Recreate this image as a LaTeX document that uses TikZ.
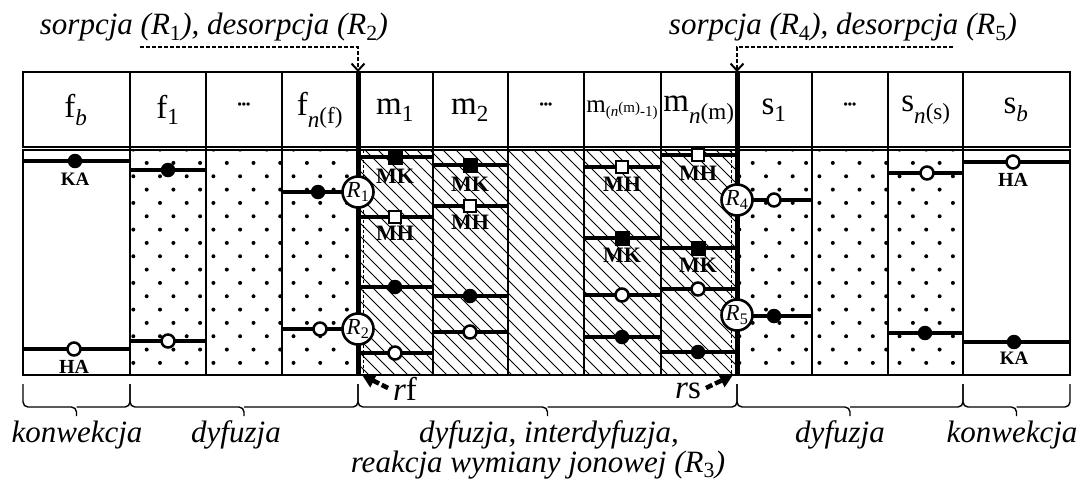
\documentclass[tikz,border=0pt]{standalone}
\usepackage{fontspec}
\setmainfont{Liberation Serif}
\usetikzlibrary{arrows.meta}
\newcommand\fsz[1]{\fontsize{#1}{#1}\selectfont}
\newcommand\sbs[1]{\textsubscript{#1}}
\tikzset{
  boxline/.style={line width=2.4pt},
  colline/.style={line width=1.8pt},
  sepline/.style={line width=5pt},
  bar/.style={line width=3.6pt},
  hatch/.style={line width=0.9pt},
  fdot/.style={circle, fill=black, inner sep=0pt, minimum size=14.5pt},
  odot/.style={circle, draw=black, fill=white, line width=2.5pt, inner sep=0pt, minimum size=13pt},
  fsq/.style={rectangle, fill=black, draw=black, inner sep=0pt, minimum size=14pt},
  osq/.style={rectangle, fill=white, draw=black, line width=2pt, inner sep=0pt, minimum size=12.5pt},
  rcirc/.style={circle, draw=black, fill=white, line width=2.6pt, minimum size=31pt, inner sep=0pt, font=\fsz{23}\itshape},
  lab/.style={inner sep=0pt, font=\fsz{22}\bfseries},
  hd/.style={inner sep=0pt, font=\fsz{33}},
  txt/.style={inner sep=0pt, font=\fsz{31}\itshape},
  btxt/.style={inner sep=0pt, anchor=base, font=\fsz{31}\itshape},
  dasharr/.style={line width=2pt, dash pattern=on 4pt off 2pt, -{Straight Barb[length=7pt,width=13pt,line width=2pt]}},
  rarr/.style={line width=4.5pt, dash pattern=on 7pt off 3pt, -{Triangle[length=13pt,width=14pt]}},
  brc/.style={line width=1.4pt, rounded corners=5pt},
}
\begin{document}
\begin{tikzpicture}[x=1pt,y=-1pt]
\useasboundingbox (0,0) rectangle (1089,483);
% hatched membrane
\begin{scope}
  \clip (358,150) rectangle (737,375);
  \foreach \k in {-240,-227,...,400} {
    \draw[hatch] (358+\k,150) -- ++(240,240);
  }
\end{scope}
% dotted regions
\begin{scope}
  \clip (130,150) rectangle (358,375);
  \foreach \i in {0,...,17} {
    \pgfmathsetmacro\yy{149.6+13.33*\i}
    \pgfmathsetmacro\xo{isodd(\i) ? 146.7 : 133.3}
    \foreach \j in {0,...,9} {
      \fill (\xo+26.7*\j,\yy) circle (2pt);
    }
  }
\end{scope}
\begin{scope}
  \clip (737,150) rectangle (963,375);
  \foreach \i in {0,...,17} {
    \pgfmathsetmacro\yy{149.6+13.33*\i}
    \pgfmathsetmacro\xo{isodd(\i) ? 752.7 : 739.3}
    \foreach \j in {0,...,9} {
      \fill (\xo+26.7*\j,\yy) circle (2pt);
    }
  }
\end{scope}
% frames
\draw[boxline] (23,72) rectangle (1070,147);
\draw[boxline] (23,150) rectangle (1070,375);
\foreach \x in {130,206,282,433,508,584,661,812,888,963} {
  \draw[colline] (\x,72) -- (\x,375);
}
\draw[line width=1pt, dash pattern=on 3pt off 2pt] (363,150) -- (363,375);
\draw[line width=1pt, dash pattern=on 3pt off 2pt] (731,150) -- (731,375);
% header labels
\node[hd] (hfb) at (76,110) {f\sbs{\itshape b}};
\node[hd] (hf1) at (168,110) {f\sbs{1}};
\node[hd] (hfd) at (244,106) {\fsz{12}\bfseries •••};
\node[hd] (hfn) at (320,110) {f\sbs{\itshape n\raisebox{4pt}{\upshape (f)}}};
\node[hd] (hm1) at (395,110) {m\sbs{1}};
\node[hd] (hm2) at (470,110) {m\sbs{2}};
\node[hd] (hmd) at (546,106) {\fsz{12}\bfseries •••};
\node[hd] (hmp) at (622,110) {\fsz{25}m\fsz{15}\raisebox{-4pt}{(\itshape n\raisebox{4pt}{\upshape (m)}\upshape -1)}};
\node[hd] (hmn) at (699,110) {m\sbs{\itshape n\raisebox{4pt}{\upshape (m)}}};
\node[hd] (hs1) at (774,110) {s\sbs{1}};
\node[hd] (hsd) at (850,106) {\fsz{12}\bfseries •••};
\node[hd] (hsn) at (926,110) {s\sbs{\itshape n\raisebox{4pt}{\upshape (s)}}};
\node[hd] (hsb) at (1016,110) {s\sbs{\itshape b}};
% bars with markers
\foreach \xa/\xb/\yy/\xm/\ty/\nm in {
  23/130/161/75/fdot/kaL, 23/130/349/74/odot/haL,
  130/206/170/168/fdot/fa1, 130/206/341/168/odot/fa2,
  282/358/192/318/fdot/fna, 282/358/329/320/odot/fnb,
  358/433/157/395/fsq/ma1, 358/433/217/395/osq/ma2, 358/433/287/395/fdot/ma3, 358/433/353/395/odot/ma4,
  433/508/165/470/fsq/mb1, 433/508/206/470/osq/mb2, 433/508/296/470/fdot/mb3, 433/508/332/470/odot/mb4,
  584/661/167/622/osq/mc1, 584/661/238/622/fsq/mc2, 584/661/295/622/odot/mc3, 584/661/337/622/fdot/mc4,
  661/737/155/698/osq/md1, 661/737/248/698/fsq/md2, 661/737/289/698/odot/md3, 661/737/352/698/fdot/md4,
  737/812/200/774/odot/sa1, 737/812/316/774/fdot/sa2,
  888/963/173/927/odot/sn1, 888/963/333/925/fdot/sn2,
  963/1070/162/1013/odot/haR, 963/1070/342/1014/fdot/kaR} {
  \draw[bar] (\xa,\yy) -- (\xb,\yy);
  \node[\ty] (\nm) at (\xm,\yy) {};
}
% marker labels
\node[lab, font=\fsz{19}\bfseries] (lkaL) at (75,179) {KA};
\node[lab, font=\fsz{20}\bfseries] (lhaL) at (74,367) {HA};
\node[lab] (lma1) at (395,176) {MK};
\node[lab] (lma2) at (395,233) {MH};
\node[lab] (lmb1) at (470,184) {MK};
\node[lab] (lmb2) at (470,222) {MH};
\node[lab] (lmc1) at (622,184) {MH};
\node[lab] (lmc2) at (622,255) {MK};
\node[lab] (lmd1) at (698,173) {MH};
\node[lab] (lmd2) at (698,265) {MK};
\node[lab, font=\fsz{20}\bfseries] (lhaR) at (1013,180) {HA};
\node[lab, font=\fsz{19}\bfseries] (lkaR) at (1014,358) {KA};
% separators
\draw[sepline] (358,72) -- (358,375);
\draw[sepline] (737,72) -- (737,375);
\node[rcirc] (R1) at (358,192) {R\sbs{\upshape 1}};
\node[rcirc] (R2) at (358,329) {R\sbs{\upshape 2}};
\node[rcirc] (R4) at (737,200) {R\sbs{\upshape 4}};
\node[rcirc] (R5) at (737,315) {R\sbs{\upshape 5}};
% top labels and arrows
\node[txt] (tl) at (214,27) {sorpcja (R\sbs{\upshape 1}), desorpcja (R\sbs{\upshape 2})};
\node[txt] (tr) at (843,27) {sorpcja (R\sbs{\upshape 4}), desorpcja (R\sbs{\upshape 5})};
\coordinate (al) at (140,47);
\coordinate (ar) at (953,47);
\coordinate (s1t) at (358,72);
\coordinate (s2t) at (737,72);
\draw[dasharr] (al) -| (s1t);
\draw[dasharr] (ar) -| (s2t);
% rf, rs
\coordinate (rft) at (388,388);
\coordinate (rfh) at (362,375);
\coordinate (rst) at (706,388);
\coordinate (rsh) at (733,375);
\draw[rarr] (rft) -- (rfh);
\draw[rarr] (rst) -- (rsh);
\node[hd] (rf) at (405,389) {\itshape r\upshape f};
\node[hd] (rs) at (688,391) {\itshape r\upshape s};
% braces
\foreach \xa/\xb/\nm in {23/130/b1, 130/358/b2, 358/737/b3, 737/963/b4, 963/1070/b5} {
  \pgfmathsetmacro\xm{(\xa+\xb)/2}
  \draw[brc] (\xa,384) -- (\xa,407) -- (\xm,407) -- (\xm,416);
  \draw[brc] (\xb,384) -- (\xb,407) -- (\xm,407);
}
\node[btxt] (k1) at (77,442) {konwekcja};
\node[btxt] (d1) at (236,442) {dyfuzja};
\node[btxt] (d2) at (549,442) {dyfuzja, interdyfuzja,};
\node[btxt] (d3) at (538,472) {reakcja wymiany jonowej (R\sbs{\upshape 3})};
\node[btxt] (d4) at (840,442) {dyfuzja};
\node[btxt] (k2) at (1012,442) {konwekcja};
\end{tikzpicture}
\end{document}
